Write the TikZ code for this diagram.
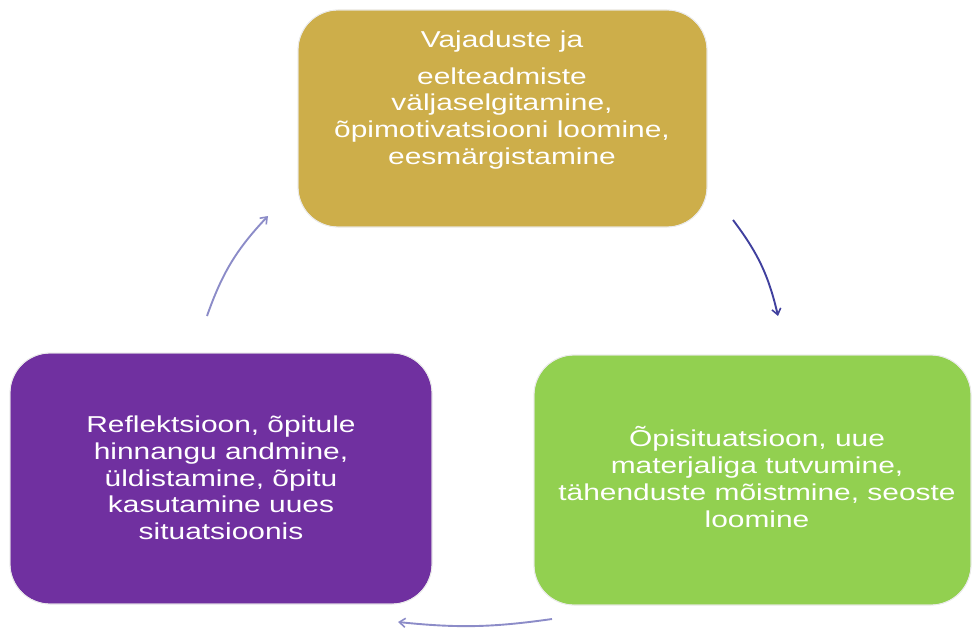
\documentclass[tikz,border=0pt]{standalone}
\usepackage{fontspec}
\setmainfont[FakeStretch=1.3]{Liberation Sans}
\usetikzlibrary{arrows.meta}
\definecolor{goldc}{HTML}{CDAE4A}
\definecolor{purplec}{HTML}{7030A0}
\definecolor{greenc}{HTML}{92D050}
\definecolor{darkarr}{HTML}{40409E}
\definecolor{lightarr}{HTML}{8C8CC8}
\tikzset{
  boxstyle/.style={rounded corners=40pt, draw=black!8, line width=0.8pt},
  boxtext/.style={text=white, align=center, font=\fontsize{23}{26.7}\selectfont, inner sep=0pt},
  cyclearrow/.style={line width=1.9pt, -{Straight Barb[length=6pt,width=9pt,line width=1.6pt]}}
}
\begin{document}
\begin{tikzpicture}[x=1pt,y=-1pt]
\useasboundingbox (0,0) rectangle (973,628);
% boxes
\fill[boxstyle, fill=goldc] (298,10) rectangle (707,227);
\fill[boxstyle, fill=purplec] (10,353) rectangle (432,604);
\fill[boxstyle, fill=greenc] (534,355) rectangle (971,605);
\draw[boxstyle] (298,10) rectangle (707,227);
\draw[boxstyle] (10,353) rectangle (432,604);
\draw[boxstyle] (534,355) rectangle (971,605);
% texts
\node[boxtext] (ttop) at (502,100) {Vajaduste ja\\[10pt]eelteadmiste\\väljaselgitamine,\\õpimotivatsiooni loomine,\\eesmärgistamine};
\node[boxtext] (tleft) at (221,478) {Reflektsioon, õpitule\\hinnangu andmine,\\üldistamine, õpitu\\kasutamine uues\\situatsioonis};
\node[boxtext] (tright) at (757,477) {Õpisituatsioon, uue\\materjaliga tutvumine,\\tähenduste mõistmine, seoste\\loomine};
% arrow coordinates
\coordinate (a1s) at (733,220);
\coordinate (a1e) at (778,316);
\coordinate (a2s) at (552,619);
\coordinate (a2e) at (398,622);
\coordinate (a3s) at (207,316);
\coordinate (a3e) at (268,216);
\draw[cyclearrow, darkarr] (a1s) to[bend left=12] (a1e);
\draw[cyclearrow, lightarr] (a2s) to[bend left=7] (a2e);
\draw[cyclearrow, lightarr] (a3s) to[bend left=12] (a3e);
\end{tikzpicture}
\end{document}
